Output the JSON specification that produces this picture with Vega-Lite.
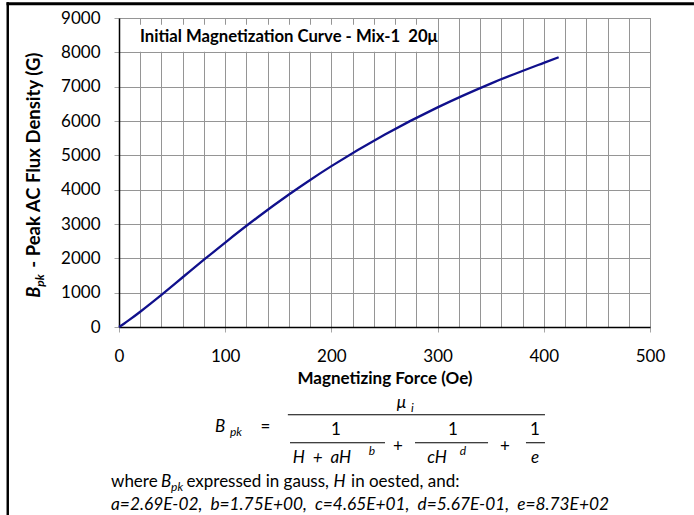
{
  "$schema": "https://vega.github.io/schema/vega-lite/v6.json",
  "width": 531,
  "height": 309,
  "autosize": "none",
  "padding": {"left": 119, "top": 18, "right": 44, "bottom": 188},
  "background": "white",
  "config": {
    "view": {"stroke": "#7f7f7f", "strokeWidth": 1},
    "font": "Lato",
    "text": {"font": "Lato", "color": "black"},
    "axis": {
      "labelFont": "Lato", "labelFontSize": 17, "labelColor": "black",
      "titleFont": "Lato", "titleFontSize": 17, "titleFontWeight": "bold", "titleColor": "black",
      "domainColor": "black", "domainWidth": 1.5,
      "grid": true, "gridColor": "#959595", "gridWidth": 1, "gridOpacity": 1,
      "tickColor": "#a6a6a6", "tickSize": 5
    }
  },
  "layer": [
    {
      "data": {"values": [
        {"H": 0, "B": 0}, {"H": 5, "B": 103.5}, {"H": 10, "B": 213.2}, {"H": 20, "B": 445.0},
        {"H": 30, "B": 688.2}, {"H": 40, "B": 938.5}, {"H": 60, "B": 1448.9}, {"H": 80, "B": 1959.3},
        {"H": 100, "B": 2460.4}, {"H": 130, "B": 3181.9}, {"H": 160, "B": 3858.5}, {"H": 180, "B": 4282.7},
        {"H": 200, "B": 4685.1}, {"H": 250, "B": 5600.2}, {"H": 300, "B": 6396.3}, {"H": 350, "B": 7089.0},
        {"H": 400, "B": 7694.7}, {"H": 414, "B": 7858}
      ]},
      "mark": {"type": "line", "color": "#10108c", "strokeWidth": 2.3, "interpolate": "monotone"},
      "encoding": {
        "x": {"field": "H", "type": "quantitative",
          "scale": {"domain": [0, 500], "nice": false, "zero": false},
          "axis": {"title": "Magnetizing Force (Oe)", "grid": true, "values": [0,20,40,60,80,100,120,140,160,180,200,220,240,260,280,300,320,340,360,380,400,420,440,460,480,500],
            "labelExpr": "datum.value % 100 === 0 ? datum.label : ''",
            "tickOpacity": {"condition": {"test": "datum.value % 100 === 0", "value": 1}, "value": 0},
            "labelPadding": 16, "titlePadding": 6, "labelFlush": false, "labelOverlap": false}},
        "y": {"field": "B", "type": "quantitative",
          "scale": {"domain": [0, 9000], "nice": false, "zero": false},
          "axis": {"title": null, "grid": true, "values": [0,1000,2000,3000,4000,5000,6000,7000,8000,9000], "format": "d", "labelPadding": 14, "labelFlush": false, "labelOverlap": false}}
      }
    },
    {"data": {"values": [{}]}, "mark": {"type": "rect", "fill": "white", "x": {"expr": "scale('x', 17)"}, "x2": {"expr": "scale('x', 299)"}, "y": {"expr": "scale('y', 8800)"}, "y2": {"expr": "scale('y', 8020)"}}},
    {"data": {"values": [{}]}, "mark": {"type": "text", "text": "Initial Magnetization Curve - Mix-1\u00a0\u00a020\u03bc", "fontSize": 16.7, "fontWeight": 700, "align": "left", "baseline": "middle", "x": {"expr": "scale('x', 19.8)"}, "y": {"expr": "scale('y', 8441)"}}},
    {"data": {"values": [{}]}, "mark": {"type": "rect", "fill": "black", "x": {"expr": "scale('x', -105.9)"}, "x2": {"expr": "scale('x', 541.4)"}, "y": {"expr": "scale('y', 9460)"}, "y2": {"expr": "scale('y', 9373)"}}},
    {"data": {"values": [{}]}, "mark": {"type": "rect", "fill": "black", "x": {"expr": "scale('x', -105.9)"}, "x2": {"expr": "scale('x', -103.6)"}, "y": {"expr": "scale('y', 9460)"}, "y2": {"expr": "scale('y', -5500)"}}},
    {"data": {"values": [{}]}, "mark": {"type": "text", "text": "B", "fontSize": 18, "fontWeight": "bold", "fontStyle": "italic", "angle": 270, "align": "left", "baseline": "alphabetic", "x": {"expr": "scale('x', -74.4)"}, "y": {"expr": "scale('y', 853)"}}},
    {"data": {"values": [{}]}, "mark": {"type": "text", "text": "pk", "fontSize": 12, "fontWeight": "bold", "fontStyle": "italic", "angle": 270, "align": "left", "baseline": "alphabetic", "x": {"expr": "scale('x', -70.6)"}, "y": {"expr": "scale('y', 1174)"}}},
    {"data": {"values": [{}]}, "mark": {"type": "text", "text": "- Peak AC Flux Density (G)", "fontSize": 18.5, "fontWeight": "bold", "angle": 270, "align": "left", "baseline": "alphabetic", "x": {"expr": "scale('x', -74.4)"}, "y": {"expr": "scale('y', 1727)"}}},
    {"data": {"values": [{}]}, "mark": {"type": "text", "text": "B", "fontSize": 17, "fontStyle": "italic", "align": "center", "baseline": "middle", "x": {"expr": "scale('x', 95.1)"}, "y": {"expr": "scale('y', -2904)"}}},
    {"data": {"values": [{}]}, "mark": {"type": "text", "text": "pk", "fontSize": 12, "fontStyle": "italic", "align": "center", "baseline": "middle", "x": {"expr": "scale('x', 110.2)"}, "y": {"expr": "scale('y', -3049)"}}},
    {"data": {"values": [{}]}, "mark": {"type": "text", "text": "=", "fontSize": 17, "align": "center", "baseline": "middle", "x": {"expr": "scale('x', 138)"}, "y": {"expr": "scale('y', -2904)"}}},
    {"data": {"values": [{}]}, "mark": {"type": "text", "text": "\u03bc", "fontSize": 17, "fontStyle": "italic", "align": "center", "baseline": "middle", "x": {"expr": "scale('x', 266)"}, "y": {"expr": "scale('y', -2205)"}}},
    {"data": {"values": [{}]}, "mark": {"type": "text", "text": "i", "fontSize": 12, "fontStyle": "italic", "align": "center", "baseline": "middle", "x": {"expr": "scale('x', 276.3)"}, "y": {"expr": "scale('y', -2350)"}}},
    {"data": {"values": [{}]}, "mark": {"type": "rect", "fill": "black", "x": {"expr": "scale('x', 159)"}, "x2": {"expr": "scale('x', 401.1)"}, "y": {"expr": "scale('y', -2540)"}, "y2": {"expr": "scale('y', -2570)"}}},
    {"data": {"values": [{}]}, "mark": {"type": "text", "text": "1", "fontSize": 17, "align": "center", "baseline": "middle", "x": {"expr": "scale('x', 204.3)"}, "y": {"expr": "scale('y', -2991)"}}},
    {"data": {"values": [{}]}, "mark": {"type": "rect", "fill": "black", "x": {"expr": "scale('x', 161)"}, "x2": {"expr": "scale('x', 250.5)"}, "y": {"expr": "scale('y', -3356)"}, "y2": {"expr": "scale('y', -3386)"}}},
    {"data": {"values": [{}]}, "mark": {"type": "text", "text": "H\u00a0\u00a0+\u00a0\u00a0aH", "fontSize": 17, "fontStyle": "italic", "align": "center", "baseline": "middle", "x": {"expr": "scale('x', 191.1)"}, "y": {"expr": "scale('y', -3807)"}}},
    {"data": {"values": [{}]}, "mark": {"type": "text", "text": "b", "fontSize": 12, "fontStyle": "italic", "align": "center", "baseline": "middle", "x": {"expr": "scale('x', 238.2)"}, "y": {"expr": "scale('y', -3603)"}}},
    {"data": {"values": [{}]}, "mark": {"type": "text", "text": "+", "fontSize": 17, "align": "center", "baseline": "middle", "x": {"expr": "scale('x', 262.7)"}, "y": {"expr": "scale('y', -3486)"}}},
    {"data": {"values": [{}]}, "mark": {"type": "text", "text": "1", "fontSize": 17, "align": "center", "baseline": "middle", "x": {"expr": "scale('x', 314.5)"}, "y": {"expr": "scale('y', -2991)"}}},
    {"data": {"values": [{}]}, "mark": {"type": "rect", "fill": "black", "x": {"expr": "scale('x', 278.7)"}, "x2": {"expr": "scale('x', 347.5)"}, "y": {"expr": "scale('y', -3356)"}, "y2": {"expr": "scale('y', -3386)"}}},
    {"data": {"values": [{}]}, "mark": {"type": "text", "text": "cH", "fontSize": 17, "fontStyle": "italic", "align": "center", "baseline": "middle", "x": {"expr": "scale('x', 299.4)"}, "y": {"expr": "scale('y', -3807)"}}},
    {"data": {"values": [{}]}, "mark": {"type": "text", "text": "d", "fontSize": 12, "fontStyle": "italic", "align": "center", "baseline": "middle", "x": {"expr": "scale('x', 323.9)"}, "y": {"expr": "scale('y', -3603)"}}},
    {"data": {"values": [{}]}, "mark": {"type": "text", "text": "+", "fontSize": 17, "align": "center", "baseline": "middle", "x": {"expr": "scale('x', 363.5)"}, "y": {"expr": "scale('y', -3486)"}}},
    {"data": {"values": [{}]}, "mark": {"type": "text", "text": "1", "fontSize": 17, "align": "center", "baseline": "middle", "x": {"expr": "scale('x', 391.7)"}, "y": {"expr": "scale('y', -2991)"}}},
    {"data": {"values": [{}]}, "mark": {"type": "rect", "fill": "black", "x": {"expr": "scale('x', 383.2)"}, "x2": {"expr": "scale('x', 401.1)"}, "y": {"expr": "scale('y', -3356)"}, "y2": {"expr": "scale('y', -3386)"}}},
    {"data": {"values": [{}]}, "mark": {"type": "text", "text": "e", "fontSize": 17, "fontStyle": "italic", "align": "center", "baseline": "middle", "x": {"expr": "scale('x', 391.7)"}, "y": {"expr": "scale('y', -3807)"}}},
    {"data": {"values": [{}]}, "mark": {"type": "text", "text": "where", "fontSize": 17, "align": "left", "baseline": "middle", "x": {"expr": "scale('x', -7.5)"}, "y": {"expr": "scale('y', -4506)"}}},
    {"data": {"values": [{}]}, "mark": {"type": "text", "text": "B", "fontSize": 17, "fontStyle": "italic", "align": "left", "baseline": "middle", "x": {"expr": "scale('x', 39.5)"}, "y": {"expr": "scale('y', -4506)"}}},
    {"data": {"values": [{}]}, "mark": {"type": "text", "text": "pk", "fontSize": 12, "fontStyle": "italic", "align": "left", "baseline": "middle", "x": {"expr": "scale('x', 49)"}, "y": {"expr": "scale('y', -4651)"}}},
    {"data": {"values": [{}]}, "mark": {"type": "text", "text": "expressed in gauss,", "fontSize": 17, "align": "left", "baseline": "middle", "x": {"expr": "scale('x', 63.5)"}, "y": {"expr": "scale('y', -4506)"}}},
    {"data": {"values": [{}]}, "mark": {"type": "text", "text": "H", "fontSize": 17, "fontStyle": "italic", "align": "left", "baseline": "middle", "x": {"expr": "scale('x', 202)"}, "y": {"expr": "scale('y', -4506)"}}},
    {"data": {"values": [{}]}, "mark": {"type": "text", "text": "in oested, and:", "fontSize": 17, "align": "left", "baseline": "middle", "x": {"expr": "scale('x', 218.5)"}, "y": {"expr": "scale('y', -4506)"}}},
    {"data": {"values": [{}]}, "mark": {"type": "text", "text": "a=2.69E-02,\u00a0\u00a0b=1.75E+00,\u00a0\u00a0c=4.65E+01,\u00a0\u00a0d=5.67E-01,\u00a0\u00a0e=8.73E+02", "fontSize": 17.3, "fontStyle": "italic", "align": "left", "baseline": "middle", "x": {"expr": "scale('x', -7.5)"}, "y": {"expr": "scale('y', -5176)"}}}
  ]
}
